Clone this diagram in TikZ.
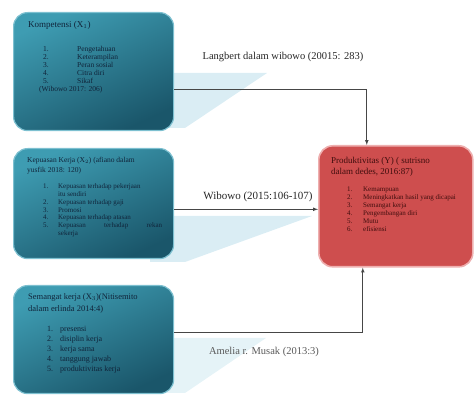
\documentclass[tikz,border=0pt]{standalone}
\usepackage{fontspec}
\setmainfont{Liberation Serif}
\usepackage{xcolor}
\usetikzlibrary{positioning,arrows}

\definecolor{tealA}{RGB}{62,156,178}
\definecolor{tealB}{RGB}{26,86,106}
\definecolor{tealTepi}{RGB}{125,192,208}
\definecolor{merah}{RGB}{206,78,78}
\definecolor{merahTepi}{RGB}{238,175,175}
\definecolor{bayang}{RGB}{218,237,244}
\definecolor{garis}{RGB}{70,70,70}
\definecolor{teksBiru}{RGB}{16,36,58}
\definecolor{teksMerah}{RGB}{64,14,14}

\begin{document}
\begin{tikzpicture}[x=1pt,y=-1pt,
            kotak/.style={
                rounded corners=14pt,
                line width=1.2pt,
                anchor=north west,
                inner sep=0pt
            },
            kotakbiru/.style={kotak,
                draw=tealTepi,
                top color=tealA,
                bottom color=tealB,
                shading angle=25,
                minimum width=160pt
            },
            kotakmerah/.style={kotak,
                draw=merahTepi,
                fill=merah,
                line width=1.6pt,
                minimum width=154pt,
                minimum height=121pt
            },
            isi/.style={inner sep=0pt, anchor=north west, align=left},
            panah/.style={draw=garis, line width=0.7pt, -latex},
            sumber/.style={inner sep=0pt, text=black!85}]

    % bayangan pantulan di kanan kotak
    \fill[bayang] (150,73) -- (267,73) -- (185,128) -- (150,128) -- cycle;
    \fill[bayang] (150,216) -- (312,216) -- (185,262) -- (150,262) -- cycle;
    \fill[bayang!70!white] (150,338) -- (266,338) -- (185,393) -- (150,393) -- cycle;

    % kotak variabel
    \node[kotakbiru, minimum height=118pt] (komp) at (13,12) {};
    \node[kotakbiru, minimum height=110pt] (kepuasan) at (13,148) {};
    \node[kotakbiru, minimum height=108pt] (semangat) at (13,285) {};
    \node[kotakmerah] (produk) at (318,145) {};

    % isi kotak X1
    \node[isi, text=teksBiru, font=\fontsize{9}{10}\selectfont,
          below right=9.5pt and 15pt of komp.north west] (kompJudul)
        {Kompetensi (X$_1$)};
    \node[isi, text=teksBiru, font=\fontsize{7.5}{8}\selectfont,
          below right=34pt and 26pt of komp.north west] (kompIsi)
        {\begin{tabular}{@{\hspace{4pt}}p{34pt}@{}l@{}}
            1. & Pengetahuan \\
            2. & Keterampilan \\
            3. & Peran sosial \\
            4. & Citra diri \\
            5. & Sikaf \\
            \multicolumn{2}{@{}l@{}}{(Wibowo 2017: 206)}
        \end{tabular}};

    % isi kotak X2
    \node[isi, text=teksBiru, font=\fontsize{7.5}{10}\selectfont,
          below right=9pt and 14pt of kepuasan.north west] (kepuasanJudul)
        {Kepuasan Kerja (X$_2$) (afiano dalam\\ yusfik 2018: 120)};
    \node[isi, text=teksBiru, font=\fontsize{7}{7.7}\selectfont,
          below right=35.4pt and 30pt of kepuasan.north west] (kepuasanIsi)
        {\begin{tabular}{@{}p{15pt}@{}l@{}}
            1. & Kepuasan terhadap pekerjaan \\
               & itu sendiri \\
            2. & Kepuasan terhadap gaji \\
            3. & Promosi \\
            4. & Kepuasan terhadap atasan \\
            5. & \makebox[104pt][s]{Kepuasan terhadap rekan} \\
               & sekerja
        \end{tabular}};

    % isi kotak X3
    \node[isi, text=teksBiru, font=\fontsize{8.5}{12}\selectfont,
          below right=8.7pt and 15pt of semangat.north west] (semangatJudul)
        {Semangat kerja (X$_3$)(Nitisemito\\ dalam erlinda 2014:4)};
    \node[isi, text=teksBiru, font=\fontsize{8}{10}\selectfont,
          below right=39pt and 34pt of semangat.north west] (semangatIsi)
        {\begin{tabular}{@{}p{13pt}@{}l@{}}
            1. & presensi \\
            2. & disiplin kerja \\
            3. & kerja sama \\
            4. & tanggung jawab \\
            5. & produktivitas kerja
        \end{tabular}};

    % isi kotak Y
    \node[isi, text=teksMerah, font=\fontsize{9}{11}\selectfont,
          below right=12.5pt and 13pt of produk.north west] (produkJudul)
        {Produktivitas (Y) ( sutrisno\\ dalam dedes, 2016:87)};
    \node[isi, text=teksMerah, font=\fontsize{7}{8}\selectfont,
          below right=41pt and 29pt of produk.north west] (produkIsi)
        {\begin{tabular}{@{}p{16pt}@{}l@{}}
            1. & Kemampuan \\
            2. & Meningkatkan hasil yang dicapai \\
            3. & Semangat kerja \\
            4. & Pengembangan diri \\
            5. & Mutu \\
            6. & efisiensi
        \end{tabular}};

    % sumber teori
    \node[sumber, font=\fontsize{10.5}{12}\selectfont] (lblLangbert) at (283,57)
        {Langbert dalam wibowo (20015: 283)};
    \node[sumber, font=\fontsize{11}{13}\selectfont] (lblWibowo) at (258,197)
        {Wibowo (2015:106-107)};
    \node[sumber, font=\fontsize{10.5}{12}\selectfont, text=black!65] (lblAmelia) at (264,352)
        {Amelia r. Musak (2013:3)};

    % hubungan
    \draw[panah] ([yshift=-18pt]komp.east) -| ([xshift=-29pt]produk.north);
    \draw[panah] ([yshift=-3pt]kepuasan.east |- produk.west) -- ([yshift=-3pt]produk.west);
    \draw[panah] ([yshift=7pt]semangat.east) -| ([xshift=-33pt]produk.south);

    \useasboundingbox (0,0) rectangle (475,398);
\end{tikzpicture}
\end{document}
